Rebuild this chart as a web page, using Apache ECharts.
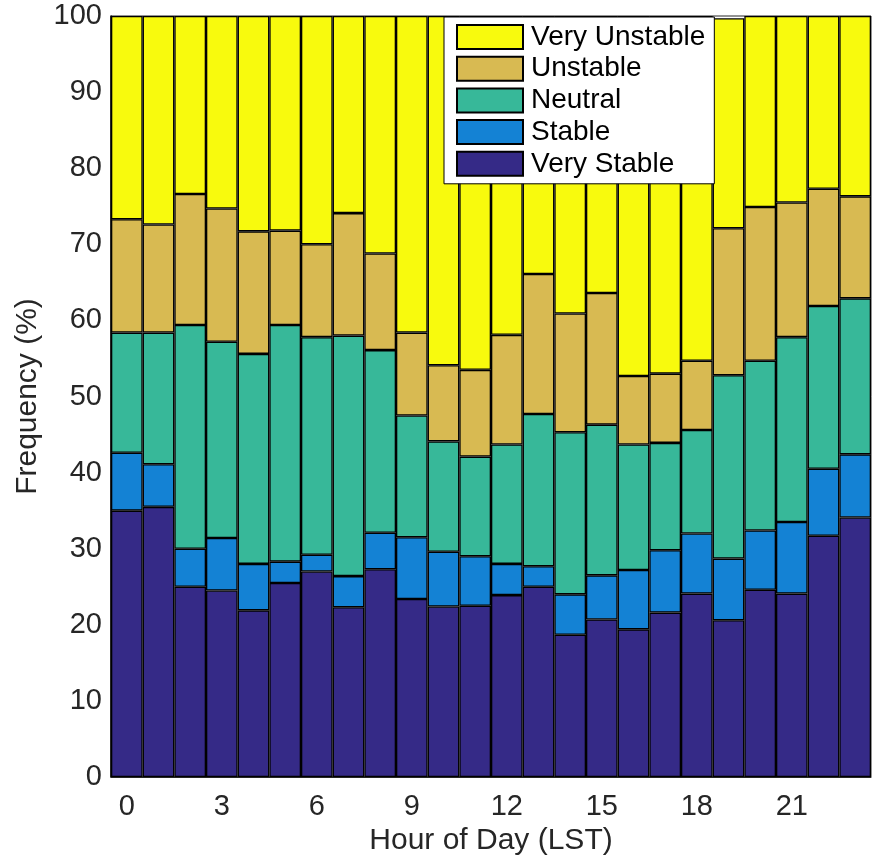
<!DOCTYPE html>
<html>
<head>
<meta charset="utf-8">
<script src="https://cdn.jsdelivr.net/npm/echarts@6/dist/echarts.min.js"></script>
<style>
  html, body { margin: 0; padding: 0; background: #fff; }
  #chart { width: 881px; height: 857px; }
</style>
</head>
<body>
<div id="chart"></div>
<script>
// Hour of day (LST), one bar per hour
const hours = ['0','1','2','3','4','5','6','7','8','9','10','11','12','13','14','15','16','17','18','19','20','21','22','23'];

// Frequency (%) of each stability class per hour
const veryStable = [35.0, 35.5, 25.0, 24.5, 21.9, 25.5, 27.0, 22.3, 27.3, 23.4, 22.4, 22.5, 23.9, 25.0, 18.7, 20.7, 19.4, 21.6, 24.1, 20.6, 24.6, 24.1, 31.7, 34.1];
const stable     = [7.6, 5.6, 5.0, 6.9, 6.1, 2.8, 2.2, 4.1, 4.8, 8.1, 7.2, 6.5, 4.1, 2.7, 5.3, 5.8, 7.8, 8.2, 7.9, 8.1, 7.8, 9.4, 8.8, 8.3];
const neutral    = [15.8, 17.3, 29.4, 25.8, 27.6, 31.1, 28.6, 31.6, 24.0, 16.0, 14.5, 13.1, 15.7, 20.0, 21.3, 19.8, 16.5, 14.1, 13.6, 24.1, 22.3, 24.3, 21.4, 20.5];
const unstable   = [14.9, 14.2, 17.2, 17.5, 16.1, 12.4, 12.2, 16.1, 12.7, 10.9, 10.0, 11.4, 14.4, 18.4, 15.6, 17.3, 9.0, 9.1, 9.1, 19.3, 20.2, 17.7, 15.4, 13.4];
const veryUnstable = [26.7, 27.4, 23.4, 25.3, 28.3, 28.2, 30.0, 25.9, 31.2, 41.6, 45.9, 46.5, 41.9, 33.9, 39.1, 36.4, 47.3, 47.0, 45.3, 27.6, 25.1, 24.5, 22.7, 23.7];

const classNames = ['Very Stable', 'Stable', 'Neutral', 'Unstable', 'Very Unstable'];
const classColors = ['#352A87', '#1482D4', '#37B899', '#D8BA52', '#F8FA0D'];
const classValues = [veryStable, stable, neutral, unstable, veryUnstable];

const FONT = '"Liberation Sans", Arial, Helvetica, sans-serif';
const INK = '#262626';

const chart = echarts.init(document.getElementById('chart'), null, { renderer: 'canvas' });

const series = classNames.map((name, k) => ({
  name: name,
  type: 'bar',
  stack: 'freq',
  data: classValues[k],
  barWidth: '100%',
  barCategoryGap: '0%',
  itemStyle: {
    color: classColors[k],
    borderColor: '#000',
    borderWidth: 1.3
  },
  emphasis: { disabled: true },
  animation: false
}));

chart.setOption({
  animation: false,
  backgroundColor: '#fff',
  grid: {
    left: 111, top: 16, width: 760, height: 761,
    outerBoundsMode: 'none',
    containLabel: false,
    show: true, borderColor: INK, borderWidth: 1, backgroundColor: 'transparent'
  },
  legend: {
    data: ['Very Unstable', 'Unstable', 'Neutral', 'Stable', 'Very Stable'],
    orient: 'vertical',
    left: 444, top: 17,
    padding: [6, 9, 6, 12],
    itemWidth: 66, itemHeight: 24, itemGap: 3.7,
    backgroundColor: '#fff',
    borderColor: '#000', borderWidth: 1,
    selectedMode: false,
    icon: 'rect',
    textStyle: { fontFamily: FONT, fontSize: 28, color: '#000', lineHeight: 28, padding: [0, 0, 0, 3] }
  },
  xAxis: {
    type: 'category',
    data: hours,
    name: 'Hour of Day (LST)',
    nameLocation: 'middle',
    nameGap: 41,
    nameTextStyle: { fontFamily: FONT, fontSize: 30, color: INK },
    axisLine: { show: true, lineStyle: { color: INK, width: 1 } },
    axisTick: { show: false },
    axisLabel: { interval: 2, fontFamily: FONT, fontSize: 29, color: INK, margin: 15 },
    splitLine: { show: false }
  },
  yAxis: {
    type: 'value',
    min: 0, max: 100, interval: 10,
    name: 'Frequency (%)',
    nameLocation: 'middle',
    nameGap: 57,
    nameTextStyle: { fontFamily: FONT, fontSize: 30, color: INK },
    axisLine: { show: true, lineStyle: { color: '#000', width: 1.5 } },
    axisTick: { show: false },
    axisLabel: { fontFamily: FONT, fontSize: 29, color: INK, margin: 9 },
    splitLine: { show: false }
  },
  series: series
});
</script>
</body>
</html>
